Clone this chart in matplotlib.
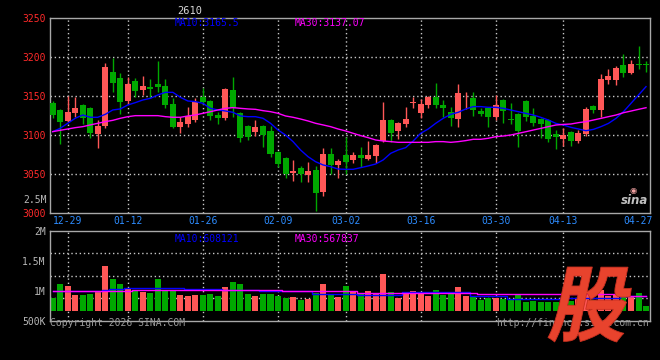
import matplotlib
matplotlib.use("Agg")
import matplotlib.pyplot as plt
import numpy as np
from matplotlib.textpath import TextPath
from matplotlib.font_manager import FontProperties
from matplotlib.patches import PathPatch
import matplotlib.transforms as mtransforms

# ---------------- data ----------------
dates = ["12-29", "01-12", "01-26", "02-09", "03-02", "03-16", "03-30", "04-13", "04-27"]
date_idx = [2, 10, 20, 30, 39, 49, 59, 68, 78]

opens = [3141.5, 3132.4, 3118.4, 3128.7, 3138.5, 3135.1, 3101.3, 3112.0, 3181.2, 3173.5,
         3143.6, 3169.3, 3157.7, 3162.0, 3165.4, 3162.9, 3139.8, 3110.3, 3114.1, 3119.3,
         3149.2, 3143.6, 3125.7, 3121.4, 3157.7, 3127.8, 3111.6, 3103.4, 3112.0, 3105.2,
         3078.2, 3071.0, 3051.7, 3057.3, 3048.7, 3055.1, 3027.4, 3075.7, 3061.5, 3074.4,
         3068.0, 3074.4, 3069.3, 3073.5, 3092.3, 3119.3, 3105.6, 3114.1, 3141.0, 3128.7,
         3138.5, 3149.2, 3138.5, 3129.0, 3120.5, 3145.8, 3147.0, 3130.8, 3134.2, 3123.5,
         3144.8, 3120.5, 3126.9, 3143.6, 3124.3, 3120.5, 3119.2, 3101.3, 3094.8, 3104.3,
         3092.3, 3101.3, 3137.2, 3132.0, 3170.5, 3170.5, 3189.7, 3179.9, 3191.0, 3191.0]
highs = [3143.6, 3133.0, 3150.0, 3149.2, 3139.8, 3135.5, 3119.3, 3192.8, 3199.2, 3180.0,
         3174.4, 3172.7, 3175.7, 3171.8, 3195.3, 3171.8, 3147.0, 3123.5, 3136.4, 3147.9,
         3159.9, 3145.0, 3129.1, 3159.9, 3174.4, 3130.0, 3113.0, 3119.3, 3113.0, 3112.0,
         3079.0, 3072.0, 3068.0, 3060.3, 3065.8, 3060.3, 3083.0, 3083.8, 3069.3, 3097.9,
         3077.8, 3084.6, 3092.3, 3089.0, 3142.3, 3120.5, 3117.1, 3135.9, 3149.2, 3145.8,
         3150.0, 3166.3, 3144.9, 3136.4, 3165.0, 3154.7, 3154.7, 3134.2, 3135.0, 3151.3,
         3146.0, 3140.6, 3128.0, 3144.9, 3134.2, 3121.5, 3121.0, 3106.4, 3109.4, 3105.5,
         3106.4, 3136.3, 3138.4, 3178.2, 3184.6, 3188.4, 3203.8, 3196.1, 3214.1, 3194.8]
lows = [3122.2, 3088.9, 3117.0, 3123.5, 3113.7, 3096.6, 3083.8, 3109.4, 3155.6, 3126.5,
        3140.0, 3149.2, 3151.3, 3147.9, 3155.6, 3135.1, 3108.6, 3103.0, 3110.0, 3117.0,
        3140.0, 3119.3, 3114.1, 3119.3, 3123.5, 3091.5, 3093.6, 3099.2, 3085.1, 3072.2,
        3059.4, 3045.3, 3041.5, 3040.2, 3040.2, 3003.0, 3022.2, 3050.0, 3045.3, 3050.0,
        3064.0, 3059.4, 3068.0, 3063.7, 3090.6, 3090.6, 3094.9, 3110.7, 3134.2, 3121.4,
        3134.2, 3134.2, 3122.7, 3112.0, 3110.7, 3133.4, 3124.8, 3124.0, 3110.7, 3119.3,
        3114.9, 3113.6, 3085.0, 3118.3, 3111.5, 3096.6, 3091.4, 3082.0, 3085.9, 3086.3,
        3090.0, 3099.0, 3127.8, 3122.6, 3165.0, 3164.1, 3174.8, 3178.2, 3184.6, 3181.2]
closes = [3125.7, 3117.1, 3129.0, 3135.1, 3121.4, 3103.0, 3112.0, 3187.2, 3166.7, 3142.8,
          3165.4, 3156.9, 3162.9, 3159.4, 3161.6, 3138.5, 3110.3, 3117.1, 3124.4, 3142.8,
          3142.8, 3124.4, 3122.2, 3158.6, 3134.2, 3096.6, 3097.9, 3110.7, 3100.0, 3075.7,
          3062.8, 3050.0, 3054.3, 3049.6, 3054.3, 3026.1, 3075.7, 3061.5, 3066.7, 3065.8,
          3074.4, 3070.1, 3074.4, 3087.2, 3119.3, 3103.0, 3115.0, 3120.5, 3141.9, 3139.3,
          3149.2, 3138.5, 3134.2, 3122.2, 3153.4, 3146.7, 3132.1, 3126.5, 3123.5, 3138.5,
          3131.2, 3119.2, 3105.5, 3122.6, 3114.9, 3114.1, 3094.8, 3097.9, 3100.0, 3092.3,
          3103.0, 3133.3, 3132.0, 3171.8, 3175.6, 3186.3, 3179.9, 3191.0, 3189.3, 3189.3]
ma10 = [3104.3, 3108.6, 3115.0, 3121.4, 3125.7, 3122.7, 3122.7, 3126.5, 3132.1, 3133.4,
        3138.5, 3141.5, 3144.9, 3147.0, 3151.3, 3154.7, 3154.7, 3148.3, 3143.6, 3142.8,
        3140.6, 3134.2, 3132.1, 3130.8, 3129.1, 3124.4, 3123.5, 3123.5, 3121.4, 3115.0,
        3106.4, 3100.0, 3091.5, 3080.8, 3072.2, 3065.8, 3061.6, 3059.4, 3056.4, 3056.0,
        3056.0, 3058.1, 3060.3, 3062.8, 3068.0, 3076.5, 3080.8, 3083.8, 3092.3, 3102.2,
        3107.7, 3115.0, 3121.4, 3126.5, 3129.1, 3133.4, 3136.4, 3136.4, 3135.5, 3135.5,
        3134.2, 3132.0, 3129.9, 3127.7, 3125.6, 3122.6, 3119.2, 3114.9, 3112.8, 3109.8,
        3107.7, 3105.5, 3107.2, 3110.7, 3114.9, 3121.3, 3129.9, 3140.6, 3151.3, 3162.0]
ma30 = [3104.3, 3106.0, 3107.7, 3109.4, 3110.7, 3112.9, 3115.0, 3117.1, 3118.8, 3121.4,
        3123.5, 3124.8, 3124.8, 3124.8, 3124.8, 3123.5, 3122.7, 3122.7, 3124.4, 3125.7,
        3127.8, 3129.9, 3132.1, 3134.2, 3135.1, 3134.2, 3133.4, 3132.9, 3131.2, 3129.9,
        3127.8, 3124.4, 3122.7, 3120.5, 3118.0, 3115.0, 3112.9, 3110.7, 3107.7, 3105.2,
        3102.2, 3099.2, 3096.6, 3093.6, 3092.3, 3091.5, 3090.6, 3090.6, 3090.6, 3090.6,
        3090.6, 3091.5, 3091.5, 3090.6, 3091.5, 3092.8, 3094.5, 3094.5, 3095.8, 3097.9,
        3098.7, 3100.0, 3102.1, 3104.2, 3106.4, 3108.5, 3110.7, 3112.8, 3113.6, 3114.1,
        3115.8, 3117.1, 3119.2, 3121.3, 3123.5, 3125.6, 3128.6, 3130.7, 3132.9, 3135.0]
volume = [883e3, 1112e3, 1078e3, 928e3, 928e3, 950e3, 983e3, 1417e3, 1195e3, 1112e3,
          1050e3, 1000e3, 978e3, 967e3, 1195e3, 1012e3, 1012e3, 928e3, 917e3, 928e3,
          928e3, 945e3, 912e3, 1062e3, 1145e3, 1112e3, 945e3, 917e3, 945e3, 945e3,
          917e3, 878e3, 895e3, 845e3, 862e3, 962e3, 1112e3, 928e3, 900e3, 1078e3,
          978e3, 937e3, 995e3, 957e3, 1278e3, 983e3, 883e3, 957e3, 995e3, 945e3,
          917e3, 1012e3, 928e3, 945e3, 1062e3, 917e3, 917e3, 845e3, 878e3, 883e3,
          862e3, 845e3, 920e3, 817e3, 828e3, 817e3, 817e3, 817e3, 862e3, 828e3,
          862e3, 978e3, 845e3, 1012e3, 912e3, 928e3, 912e3, 912e3, 962e3, 745e3]
vol_ma10 = [995e3, 995e3, 995e3, 995e3, 995e3, 990e3, 990e3, 1010e3, 1028e3, 1035e3,
            1053e3, 1053e3, 1053e3, 1053e3, 1053e3, 1053e3, 1053e3, 1053e3, 1028e3, 1028e3,
            1028e3, 1028e3, 1028e3, 1012e3, 1012e3, 1012e3, 1012e3, 1012e3, 987e3, 987e3,
            987e3, 987e3, 987e3, 987e3, 987e3, 945e3, 945e3, 945e3, 945e3, 945e3,
            945e3, 928e3, 928e3, 928e3, 928e3, 928e3, 928e3, 978e3, 978e3, 978e3,
            978e3, 978e3, 978e3, 978e3, 978e3, 978e3, 912e3, 912e3, 912e3, 912e3,
            912e3, 862e3, 862e3, 862e3, 862e3, 862e3, 862e3, 862e3, 878e3, 878e3,
            878e3, 878e3, 878e3, 878e3, 878e3, 878e3, 912e3, 912e3, 912e3, 912e3]
vol_ma30 = [1003e3, 1003e3, 1003e3, 1003e3, 1003e3, 1003e3, 1003e3, 1003e3, 1003e3, 1003e3,
            1003e3, 1012e3, 1012e3, 1012e3, 1012e3, 1012e3, 1012e3, 1012e3, 1012e3, 1012e3,
            1012e3, 1012e3, 1012e3, 1012e3, 1012e3, 1012e3, 1012e3, 1012e3, 1012e3, 1012e3,
            1012e3, 995e3, 995e3, 995e3, 995e3, 995e3, 995e3, 995e3, 995e3, 995e3,
            995e3, 962e3, 962e3, 962e3, 962e3, 962e3, 962e3, 962e3, 962e3, 962e3,
            962e3, 962e3, 962e3, 962e3, 962e3, 962e3, 962e3, 937e3, 937e3, 937e3,
            937e3, 937e3, 937e3, 937e3, 937e3, 937e3, 937e3, 937e3, 937e3, 937e3,
            937e3, 937e3, 937e3, 937e3, 937e3, 937e3, 920e3, 920e3, 920e3, 920e3]
price_ticks = [3000, 3050, 3100, 3150, 3200, 3250]
vol_ticks = [500e3, 1000e3, 1500e3, 2000e3]
vol_tick_labels = ["500K", "1M", "1.5M", "2M"]
title_text = "2610"
ma_price_labels = ["MA10:3165.5", "MA30:3137.07"]
ma_vol_labels = ["MA10:608121", "MA30:567837"]

# ---------------- style ----------------
W, H = 660, 360
RED = "#ff5757"
GREEN = "#00a800"
BLUE = "#0000ff"
MAG = "#ff00ff"
GRID = "#c8c8c8"
SPINE = "#a8a8a8"
MONO = "DejaVu Sans Mono"
FS = 7
VOL_FLOOR = 667e3

plt.rcParams["font.family"] = [MONO, "DejaVu Sans"]

fig = plt.figure(figsize=(W / 100, H / 100), dpi=100, facecolor="black")


def px_axes(l, t, r, b):
    return fig.add_axes([l / W, 1 - b / H, (r - l) / W, (b - t) / H])


n = len(closes)
x = np.arange(n)
o = np.array(opens); c = np.array(closes); hi = np.array(highs); lo = np.array(lows)
cols = np.where(c >= o, RED, GREEN)
xlim = (-0.36, n - 1 + 0.53)

# ---------------- price panel ----------------
ax1 = px_axes(50, 18, 650, 213)
ax1.set_facecolor("black")
ax1.set_xlim(*xlim)
ax1.set_ylim(price_ticks[0], price_ticks[-1])
for yv in price_ticks[1:-1]:
    ax1.axhline(yv, color=GRID, lw=1, ls=(0, (1, 2)), zorder=1)
for xv in date_idx[:-1]:
    ax1.axvline(xv, color=GRID, lw=1, ls=(0, (1, 2)), zorder=1)

ax1.vlines(x, lo, hi, colors=cols, lw=1, zorder=2)
ax1.bar(x, np.maximum(np.abs(c - o), 0.7), bottom=np.minimum(o, c), width=0.8,
        color=cols, lw=0, zorder=3)
ax1.plot(x, ma10, color=BLUE, lw=1, zorder=4)
ax1.plot(x, ma30, color=MAG, lw=1, zorder=4)

ax1.set_yticks(price_ticks)
ax1.set_yticklabels([str(t) for t in price_ticks])
ax1.set_xticks(date_idx)
ax1.set_xticklabels(dates)
ax1.tick_params(axis="y", length=0, pad=3, labelcolor="#ff2a2a", labelsize=FS)
ax1.tick_params(axis="x", length=0, pad=2.5, labelcolor="#2d8cff", labelsize=FS)
for s in ax1.spines.values():
    s.set_color(SPINE); s.set_linewidth(1)

# ---------------- volume panel ----------------
ax2 = px_axes(50, 230.7, 650, 320.7)
ax2.set_facecolor("black")
ax2.set_xlim(*xlim)
ax2.set_ylim(vol_ticks[0], vol_ticks[-1])
ylo, yhi = ax2.get_ylim()
for k in (1, 2, 3):
    ax2.axhline(ylo + (yhi - ylo) * k / 4, color=GRID, lw=1, ls=(0, (1, 2)), zorder=1)
for xv in date_idx[:-1]:
    ax2.axvline(xv, color=GRID, lw=1, ls=(0, (1, 2)), zorder=1)
vol = np.array(volume)
ax2.bar(x, vol - VOL_FLOOR, bottom=VOL_FLOOR, width=0.8, color=cols, lw=0, zorder=2)
ax2.plot(x, vol_ma10, color=BLUE, lw=1, zorder=3, drawstyle="steps-mid")
ax2.plot(x, vol_ma30, color=MAG, lw=1, zorder=3, drawstyle="steps-mid")
ax2.set_yticks(vol_ticks)
ax2.set_yticklabels(vol_tick_labels)
ax2.set_xticks([])
ax2.tick_params(axis="y", length=0, pad=3, labelcolor="#b8b8b8", labelsize=FS)
for s in ax2.spines.values():
    s.set_color(SPINE); s.set_linewidth(1)


def ftext(px, py, s, **kw):
    kw.setdefault("fontsize", FS)
    kw.setdefault("va", "center")
    return fig.text(px / W, 1 - py / H, s, **kw)


ftext(189.5, 10.5, title_text, color="#d8d8d8", ha="center", fontsize=7.5)
ftext(175, 23.3, ma_price_labels[0], color=BLUE, ha="left")
ftext(295, 23.3, ma_price_labels[1], color=MAG, ha="left")
ftext(46.5, 200, "2.5M", color="#b8b8b8", ha="right")
ftext(175, 238.5, ma_vol_labels[0], color=BLUE, ha="left")
ftext(295, 238.5, ma_vol_labels[1], color=MAG, ha="left")
ftext(50, 323.5, "Copyright 2026 SINA.COM", color="#9a9a9a", ha="left")
ftext(649, 323.5, "http://finance.sina.com.cn", color="#9a9a9a", ha="right")

# sina watermark
ftext(635, 201, "sina", color="#c0c0c0", ha="center", fontsize=8.5,
      fontweight="bold", fontstyle="italic", family="DejaVu Sans")
ftext(633, 190, "◉", color="#f0a0a0", ha="center", fontsize=6, family="DejaVu Sans")

# big red logo character
fp = FontProperties(family="Noto Sans CJK SC", weight="bold")
tp = TextPath((0, 0), "股", size=100, prop=fp)
ext = tp.get_extents()
box_l, box_t, box_r, box_b = 547, 267, 638, 342
gh = box_b - box_t
skew = 12
gw = (box_r - box_l) - gh * np.tan(np.radians(skew))
tr = (mtransforms.Affine2D()
      .translate(-ext.x0, -ext.y0)
      .scale(gw / ext.width, gh / ext.height)
      .skew_deg(skew, 0)
      .translate(box_l, H - box_b))
patch = PathPatch(tp, transform=tr, facecolor="#e8432d", edgecolor="#c83020",
                  lw=0.6, zorder=10)
fig.add_artist(patch)

fig.savefig("out.png", dpi=100, facecolor="black")
